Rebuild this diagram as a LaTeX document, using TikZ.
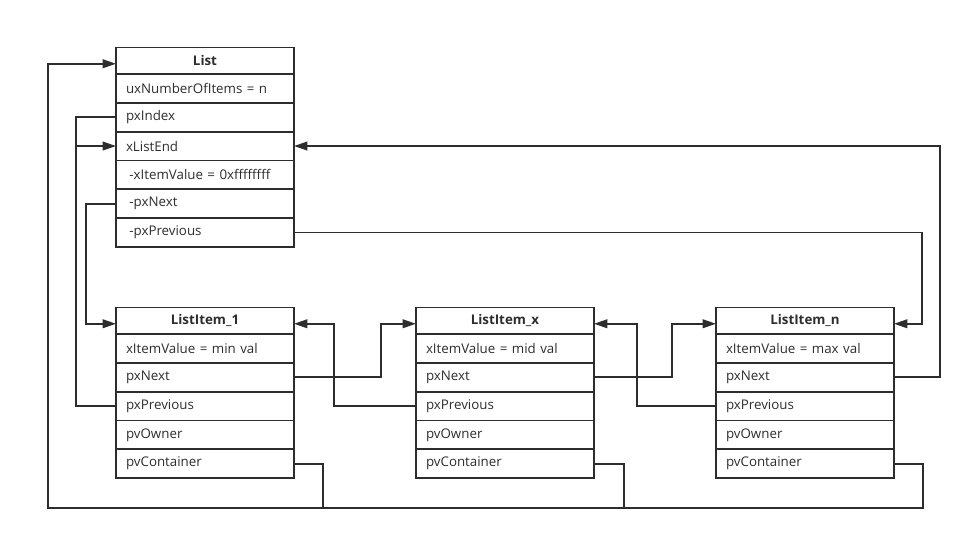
\documentclass[tikz,border=0pt]{standalone}
\usepackage{fontspec}
\setmainfont{Open Sans}
\usetikzlibrary{arrows.meta}
\usetikzlibrary{positioning}
\definecolor{Graphite}{RGB}{45,45,45}

\begin{document}
\begin{tikzpicture}[
  x=0.75pt, y=-0.75pt,
  node distance=0pt,
  every node/.style={text=Graphite, font=\fontsize{10}{12}\selectfont},
  field/.style={draw=Graphite, line width=1.3pt, outer sep=0pt,
    text width=118.5pt, inner xsep=7.5pt, inner ysep=0pt,
    minimum height=21.6pt, align=left},
  head/.style={field, align=center, minimum height=19.9pt,
    font=\fontsize{10}{12}\selectfont\bfseries},
  link/.style={draw=Graphite, line width=1.3pt},
  ptr/.style={link, -{Triangle[length=10pt,width=6.5pt]}},
  ]
\useasboundingbox (0,0) rectangle (972,539);

% List
\node [head, anchor=north] (l0) at (205,47.5) {List};
\node [field] (l1) [below=of l0] {uxNumberOfItems = n};
\node [field] (l2) [below=of l1] {pxIndex};
\node [field] (l3) [below=of l2] {xListEnd};
\node [field] (l4) [below=of l3] {\hspace{2.5pt}-xItemValue = 0xffffffff};
\node [field] (l5) [below=of l4] {\hspace{2.5pt}-pxNext};
\node [field] (l6) [below=of l5] {\hspace{2.5pt}-pxPrevious};

% ListItem_1
\node [head, anchor=north] (a0) at (205,307.5) {ListItem\_1};
\node [field] (a1) [below=of a0] {xItemValue = min val};
\node [field] (a2) [below=of a1] {pxNext};
\node [field] (a3) [below=of a2] {pxPrevious};
\node [field] (a4) [below=of a3] {pvOwner};
\node [field] (a5) [below=of a4] {pvContainer};

% ListItem_x
\node [head, anchor=north] (b0) at (505,307.5) {ListItem\_x};
\node [field] (b1) [below=of b0] {xItemValue = mid val};
\node [field] (b2) [below=of b1] {pxNext};
\node [field] (b3) [below=of b2] {pxPrevious};
\node [field] (b4) [below=of b3] {pvOwner};
\node [field] (b5) [below=of b4] {pvContainer};

% ListItem_n
\node [head, anchor=north] (c0) at (805,307.5) {ListItem\_n};
\node [field] (c1) [below=of c0] {xItemValue = max val};
\node [field] (c2) [below=of c1] {pxNext};
\node [field] (c3) [below=of c2] {pxPrevious};
\node [field] (c4) [below=of c3] {pvOwner};
\node [field] (c5) [below=of c4] {pvContainer};

\coordinate (bus) at (48,508);

% pvContainer -> List
\draw [link] (a5.east) -- ++(29,0) |- (bus);
\draw [link] (b5.east) -- ++(30,0) |- (bus);
\draw [ptr] (c5.east) -- ++(29,0) |- (bus) |- ([yshift=-2.25pt]l0.west);

% pxIndex, list end
\draw [link] (l2.west) -- ++(-40,0) |- (a3.west);
\draw [ptr] (a3.west) -- ++(-40,0) |- (l3.west);
\draw [ptr] (c2.east) -- ++(46,0) |- (l3.east);
\draw [ptr] (l5.west) -- ++(-30,0) |- ([yshift=-2.25pt]a0.west);
\draw [ptr] (l6.east) -- ++(628,0) |- ([yshift=-2.25pt]c0.east);

% next / previous
\draw [ptr] (a2.east) -- ++(87,0) |- ([yshift=-2.25pt]b0.west);
\draw [ptr] (b3.west) -- ++(-82,0) |- ([yshift=-2.25pt]a0.east);
\draw [ptr] (b2.east) -- ++(78,0) |- ([yshift=-2.25pt]c0.west);
\draw [ptr] (c3.west) -- ++(-79,0) |- ([yshift=-2.25pt]b0.east);
\end{tikzpicture}
\end{document}
